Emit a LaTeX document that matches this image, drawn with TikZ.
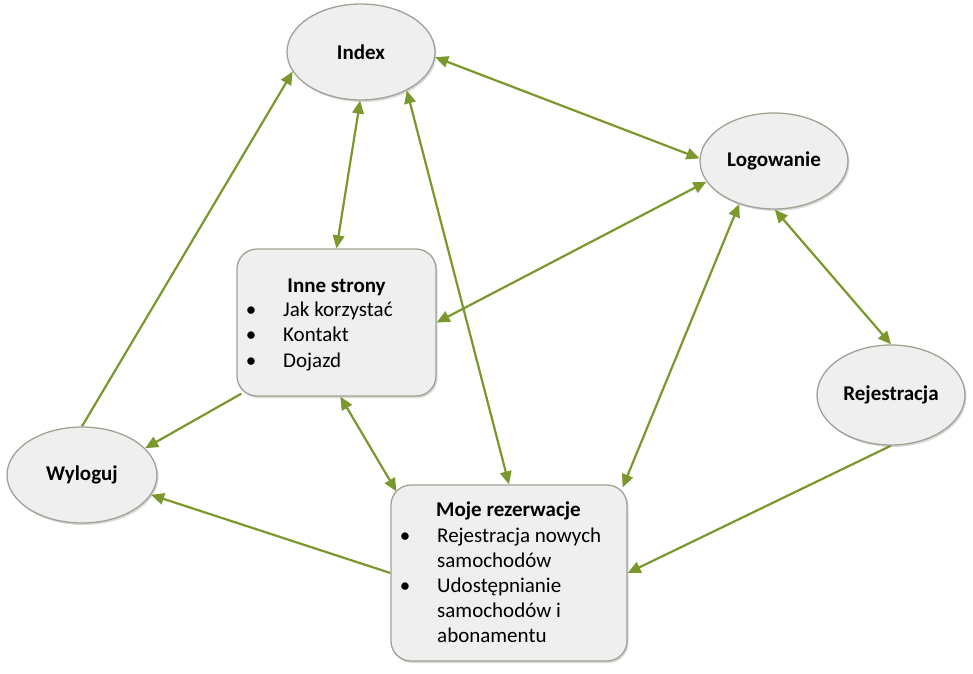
\documentclass[tikz,border=0pt]{standalone}
\usepackage{fontspec}
\setmainfont{Carlito}
\usetikzlibrary{arrows.meta,shapes.geometric,shadows,calc}
\definecolor{arrowgreen}{RGB}{122,152,44}
\definecolor{shapeborder}{RGB}{160,162,148}
\definecolor{shapefill}{RGB}{239,239,239}
\pgfdeclarelayer{bg}
\pgfsetlayers{bg,main}
\tikzset{
  shp/.style={draw=shapeborder, line width=1.3pt, fill=shapefill, inner sep=0pt,
    drop shadow={shadow xshift=1.5pt, shadow yshift=-2pt, opacity=0.25, fill=black!60}},
  ell/.style={shp, ellipse, minimum width=148pt, minimum height=96pt,
    font=\fontsize{21}{25}\selectfont\bfseries},
  boxx/.style={shp, rectangle, rounded corners=20pt},
  txt/.style={inner sep=0pt, font=\fontsize{21}{25}\selectfont},
  biarrow/.style={draw=arrowgreen, line width=2.2pt, {Triangle[length=13pt,width=11.5pt]}-{Triangle[length=13pt,width=11.5pt]}},
  onearrow/.style={draw=arrowgreen, line width=2.2pt, -{Triangle[length=13pt,width=11.5pt]}}
}
\begin{document}
\begin{tikzpicture}[x=1pt,y=-1pt]
\useasboundingbox (0,0) rectangle (973,673);
% ellipses
\node[ell] (index) at (361,52) {Index};
\node[ell] (logowanie) at (774,161) {Logowanie};
\node[ell, minimum height=100pt] (rejestracja) at (891,395) {Rejestracja};
\node[ell, minimum width=150pt] (wyloguj) at (82,475) {Wyloguj};
% boxes
\node[boxx, minimum width=199pt, minimum height=147pt] (inne) at (336.5,322.5) {};
\node[boxx, minimum width=236pt, minimum height=176pt] (moje) at (509,573) {};
% Inne strony text
\node[txt, anchor=base] (inneT) at (336.5,292) {\textbf{Inne strony}};
\node[txt, anchor=base] (inneB1) at (251,316) {\textbullet};
\node[txt, anchor=base west] (inne1) at (283,316) {Jak korzystać};
\node[txt, anchor=base] (inneB2) at (251,341) {\textbullet};
\node[txt, anchor=base west] (inne2) at (283,341) {Kontakt};
\node[txt, anchor=base] (inneB3) at (251,367) {\textbullet};
\node[txt, anchor=base west] (inne3) at (283,367) {Dojazd};
% Moje rezerwacje text
\node[txt, anchor=base] (mojeT) at (508.5,516) {\textbf{Moje rezerwacje}};
\node[txt, anchor=base] (mojeB1) at (405,542) {\textbullet};
\node[txt, anchor=base west] (moje1) at (437,542) {Rejestracja nowych};
\node[txt, anchor=base west] (moje2) at (437,567) {samochodów};
\node[txt, anchor=base] (mojeB2) at (405,592) {\textbullet};
\node[txt, anchor=base west] (moje3) at (437,592) {Udostępnianie};
\node[txt, anchor=base west] (moje4) at (437,617) {samochodów i};
\node[txt, anchor=base west] (moje5) at (437,642) {abonamentu};
% connectors
\begin{pgfonlayer}{bg}
\draw[biarrow] (index.-4) -- (logowanie.178);
\draw[biarrow] (index.-91) -- (inne.north);
\draw[biarrow] (index.-40) -- (moje.north);
\draw[onearrow] (wyloguj.north) -- (index.196);
\draw[biarrow] (logowanie.197) -- (inne.east);
\draw[biarrow] (logowanie.231) -- ($(moje.north east)+(-5,3)$);
\draw[biarrow] (logowanie.-89) -- (rejestracja.north);
\draw[onearrow] (rejestracja.south) -- (moje.east);
\draw[onearrow] ($(inne.south west)+(5,-3)$) -- (wyloguj.23);
\draw[biarrow] (inne.-87) -- ($(moje.north west)+(6,7)$);
\draw[onearrow] (moje.west) -- (wyloguj.-16);
\end{pgfonlayer}
\end{tikzpicture}
\end{document}
